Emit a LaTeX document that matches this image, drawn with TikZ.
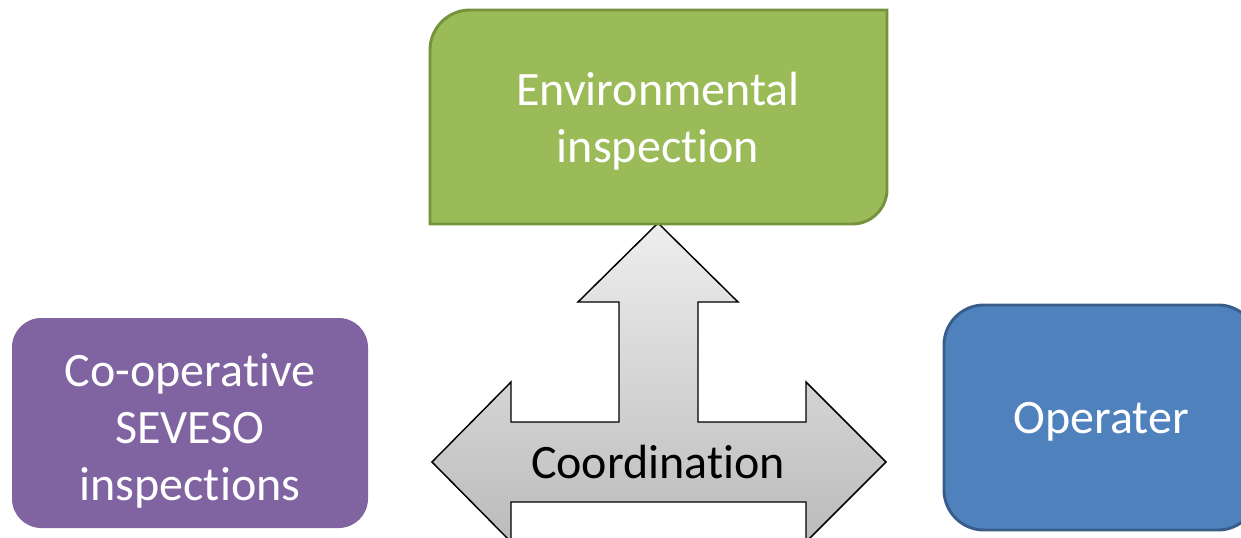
\documentclass[tikz,border=0pt]{standalone}
\usepackage{fontspec}
\setmainfont{Carlito}[RawFeature={-liga;-clig;-dlig;-calt}]
\usetikzlibrary{positioning}
\definecolor{envgreen}{HTML}{9BBB59}
\definecolor{envgreenline}{HTML}{76923C}
\definecolor{coopurple}{HTML}{8064A2}
\definecolor{opblue}{HTML}{4F81BD}
\definecolor{opblueline}{HTML}{385D8A}
\definecolor{arrowtop}{HTML}{EEEEEE}
\definecolor{arrowbottom}{HTML}{BBBBBB}
\tikzset{
  boxtext/.style={text=white, align=center, font=\fontsize{36}{43}\selectfont},
  coopbox/.style={fill=coopurple, rounded corners=22pt,
    minimum width=267pt, minimum height=157.5pt, inner sep=0pt},
  opbox/.style={fill=opblue, draw=opblueline, line width=2.2pt,
    rounded corners=30pt, minimum width=235.5pt, minimum height=168.75pt, inner sep=0pt},
  envbox/.style={fill=envgreen, draw=envgreenline, line width=2.2pt},
  bigarrow/.style={draw=black, line width=1.1pt, top color=arrowtop, bottom color=arrowbottom}
}
\begin{document}
\begin{tikzpicture}[x=0.75pt,y=-0.75pt]
\useasboundingbox (0,0) rectangle (1241,538);
\clip (0,0) rectangle (1241,538);
% three-way coordination arrow
\draw[bigarrow] (658,223) -- (738,302) -- (698,302) -- (698,422) -- (806,422)
  -- (806,382) -- (886,462) -- (806,542) -- (806,502) -- (511,502) -- (511,542)
  -- (432,462) -- (511,382) -- (511,422) -- (619,422) -- (619,302) -- (578,302) -- cycle;
\node (coord) at (658,462) {\fontsize{36}{43}\selectfont Coordination};
% environmental inspection box
\draw[envbox] (430,224) [rounded corners=30pt] -- (430,10) [sharp corners] -- (887,10)
  [rounded corners=26pt] -- (887,224) [sharp corners] -- cycle;
\node[boxtext] (env) at (658,121) {Environmental\\inspection};
% side boxes
\node[coopbox] (coop) at (190,423) {};
\node[boxtext] (cooptext) at ([yshift=-6pt]coop.center) {Co-operative\\SEVESO\\inspections};
\node[opbox] (oper) at (1101,417.5) {};
\node[boxtext] (opertext) at ([yshift=-3.5pt]oper.center) {Operater};
\end{tikzpicture}
\end{document}
